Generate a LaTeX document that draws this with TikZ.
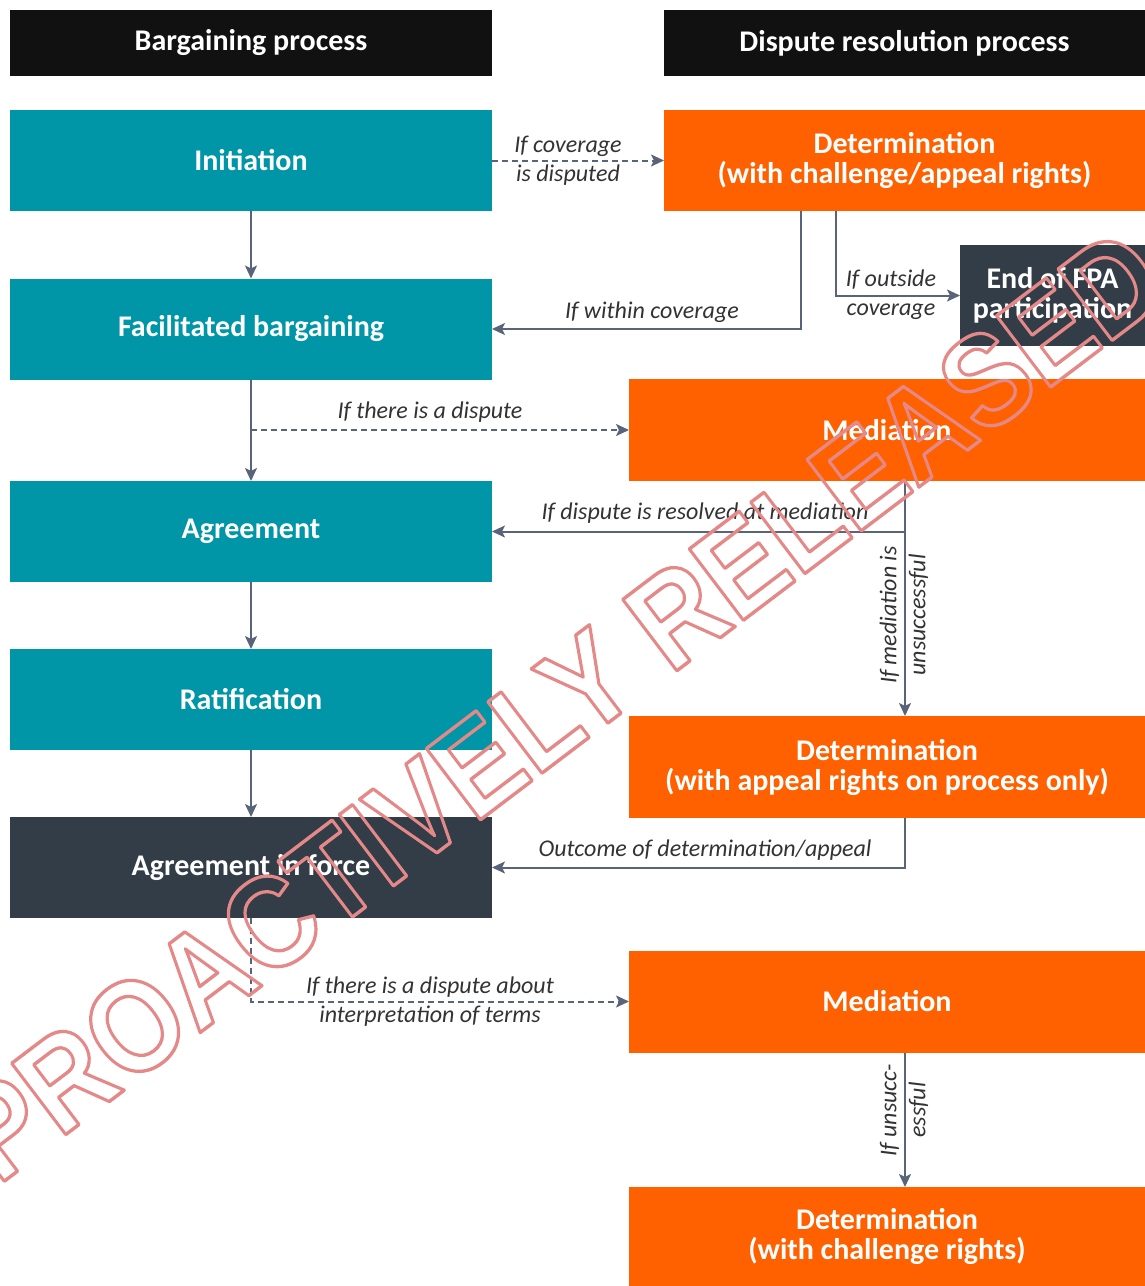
\documentclass[tikz,border=0pt]{standalone}
\usepackage{fontspec}
\setmainfont{Carlito}
\newfontfamily\wmfont{Liberation Sans}
\usetikzlibrary{arrows.meta}
\definecolor{cteal}{HTML}{0096A8}
\definecolor{corange}{HTML}{FF6000}
\definecolor{cdark}{HTML}{323D48}
\definecolor{chead}{HTML}{111111}
\definecolor{carrow}{HTML}{5A6478}
\definecolor{ctext}{HTML}{333333}
\definecolor{cwm}{HTML}{E48888}
\newcommand\outlinetext[1]{\special{pdf:literal direct 1 Tr 3.4 w 1 j 1 J}#1\special{pdf:literal direct 0 Tr}}
\tikzset{
  bx/.style={inner sep=0pt, outer sep=0pt, text=white, align=center,
    font=\bfseries\fontsize{30}{30}\selectfont},
  headbox/.style={bx, fill=chead, minimum height=66pt},
  tealbox/.style={bx, fill=cteal, minimum width=482pt, minimum height=101pt},
  darkbox/.style={bx, fill=cdark, minimum height=101pt},
  orangebox/.style={bx, fill=corange, minimum width=516pt, minimum height=102pt},
  arr/.style={draw=carrow, line width=2pt, -{Stealth[length=13pt,width=12pt,inset=3pt]}},
  dsh/.style={dash pattern=on 6pt off 4pt},
  lbl/.style={font=\itshape\fontsize{24}{29}\selectfont, text=ctext, inner sep=0pt, align=center},
}
\begin{document}
\begin{tikzpicture}[x=1pt,y=-1pt]
\useasboundingbox (0,0) rectangle (1145,1286);
\fill[white] (0,0) rectangle (1145,1286);
% headers
\node[headbox, minimum width=482pt] (hl) at (251,43) {Bargaining process};
\node[headbox, minimum width=481pt] (hr) at (904.5,43) {Dispute resolution process};
% left column
\node[tealbox] (init) at (251,160.5) {Initiation};
\node[tealbox] (fac) at (251,329) {Facilitated bargaining};
\node[tealbox] (agr) at (251,531.5) {Agreement};
\node[tealbox] (rat) at (251,699.5) {Ratification};
\node[darkbox, minimum width=482pt] (aif) at (251,867.5) {Agreement in force};
% right column
\node[orangebox, minimum width=481pt, minimum height=101pt] (det1) at (904.5,160.5) {Determination\\(with challenge/appeal rights)};
\node[darkbox, minimum width=185pt] (end) at (1052.5,295.5) {End of FPA\\participation};
\node[orangebox] (med1) at (887,430) {Mediation};
\node[orangebox] (det2) at (887,767) {Determination\\(with appeal rights on process only)};
\node[orangebox] (med2) at (887,1001.5) {Mediation};
\node[orangebox, minimum height=99pt] (det3) at (887,1236.5) {Determination\\(with challenge rights)};
% connectors
\draw[arr] (init) -- (fac);
\draw[arr, dsh] (init.east) -- (det1.west);
\draw[arr] ([xshift=-103.5pt]det1.south) |- (fac.east);
\draw[arr] ([xshift=-68.5pt]det1.south) |- (end.west);
\draw[arr] (fac) -- (agr);
\coordinate (d1) at (251,430);
\draw[arr, dsh] (d1) -- (med1.west);
\draw[arr] ([xshift=18pt]med1.south) |- (agr.east);
\draw[arr] ([xshift=18pt]med1.south) -- ([xshift=18pt]det2.north);
\draw[arr] (agr) -- (rat);
\draw[arr] (rat) -- (aif);
\draw[arr] ([xshift=18pt]det2.south) |- (aif.east);
\draw[arr, dsh] (aif.south) |- (med2.west);
\draw[arr] ([xshift=18pt]med2.south) -- ([xshift=18pt]det3.north);
% labels
\node[lbl] (l1) at (568,161) {If coverage\\is disputed};
\node[lbl] (l2) at (652,312) {If within coverage};
\node[lbl] (l3) at (891,295) {If outside\\coverage};
\node[lbl] (l4) at (430,412) {If there is a dispute};
\node[lbl] (l5) at (705,513) {If dispute is resolved at mediation};
\node[lbl, rotate=90] (l6) at (904,615) {If mediation is\\unsuccessful};
\node[lbl] (l7) at (705,850) {Outcome of determination/appeal};
\node[lbl] (l8) at (430,1002) {If there is a dispute about\\interpretation of terms};
\node[lbl, rotate=90] (l9) at (904,1110) {If unsucc-\\essful};
% watermark
\node[rotate=37.2, xscale=0.89, anchor=base west, inner sep=0pt, text=cwm] (wm) at (-2,1186)
  {\wmfont\bfseries\fontsize{130}{130}\selectfont\outlinetext{PROACTIVELY RELEASED}};
\end{tikzpicture}
\end{document}
